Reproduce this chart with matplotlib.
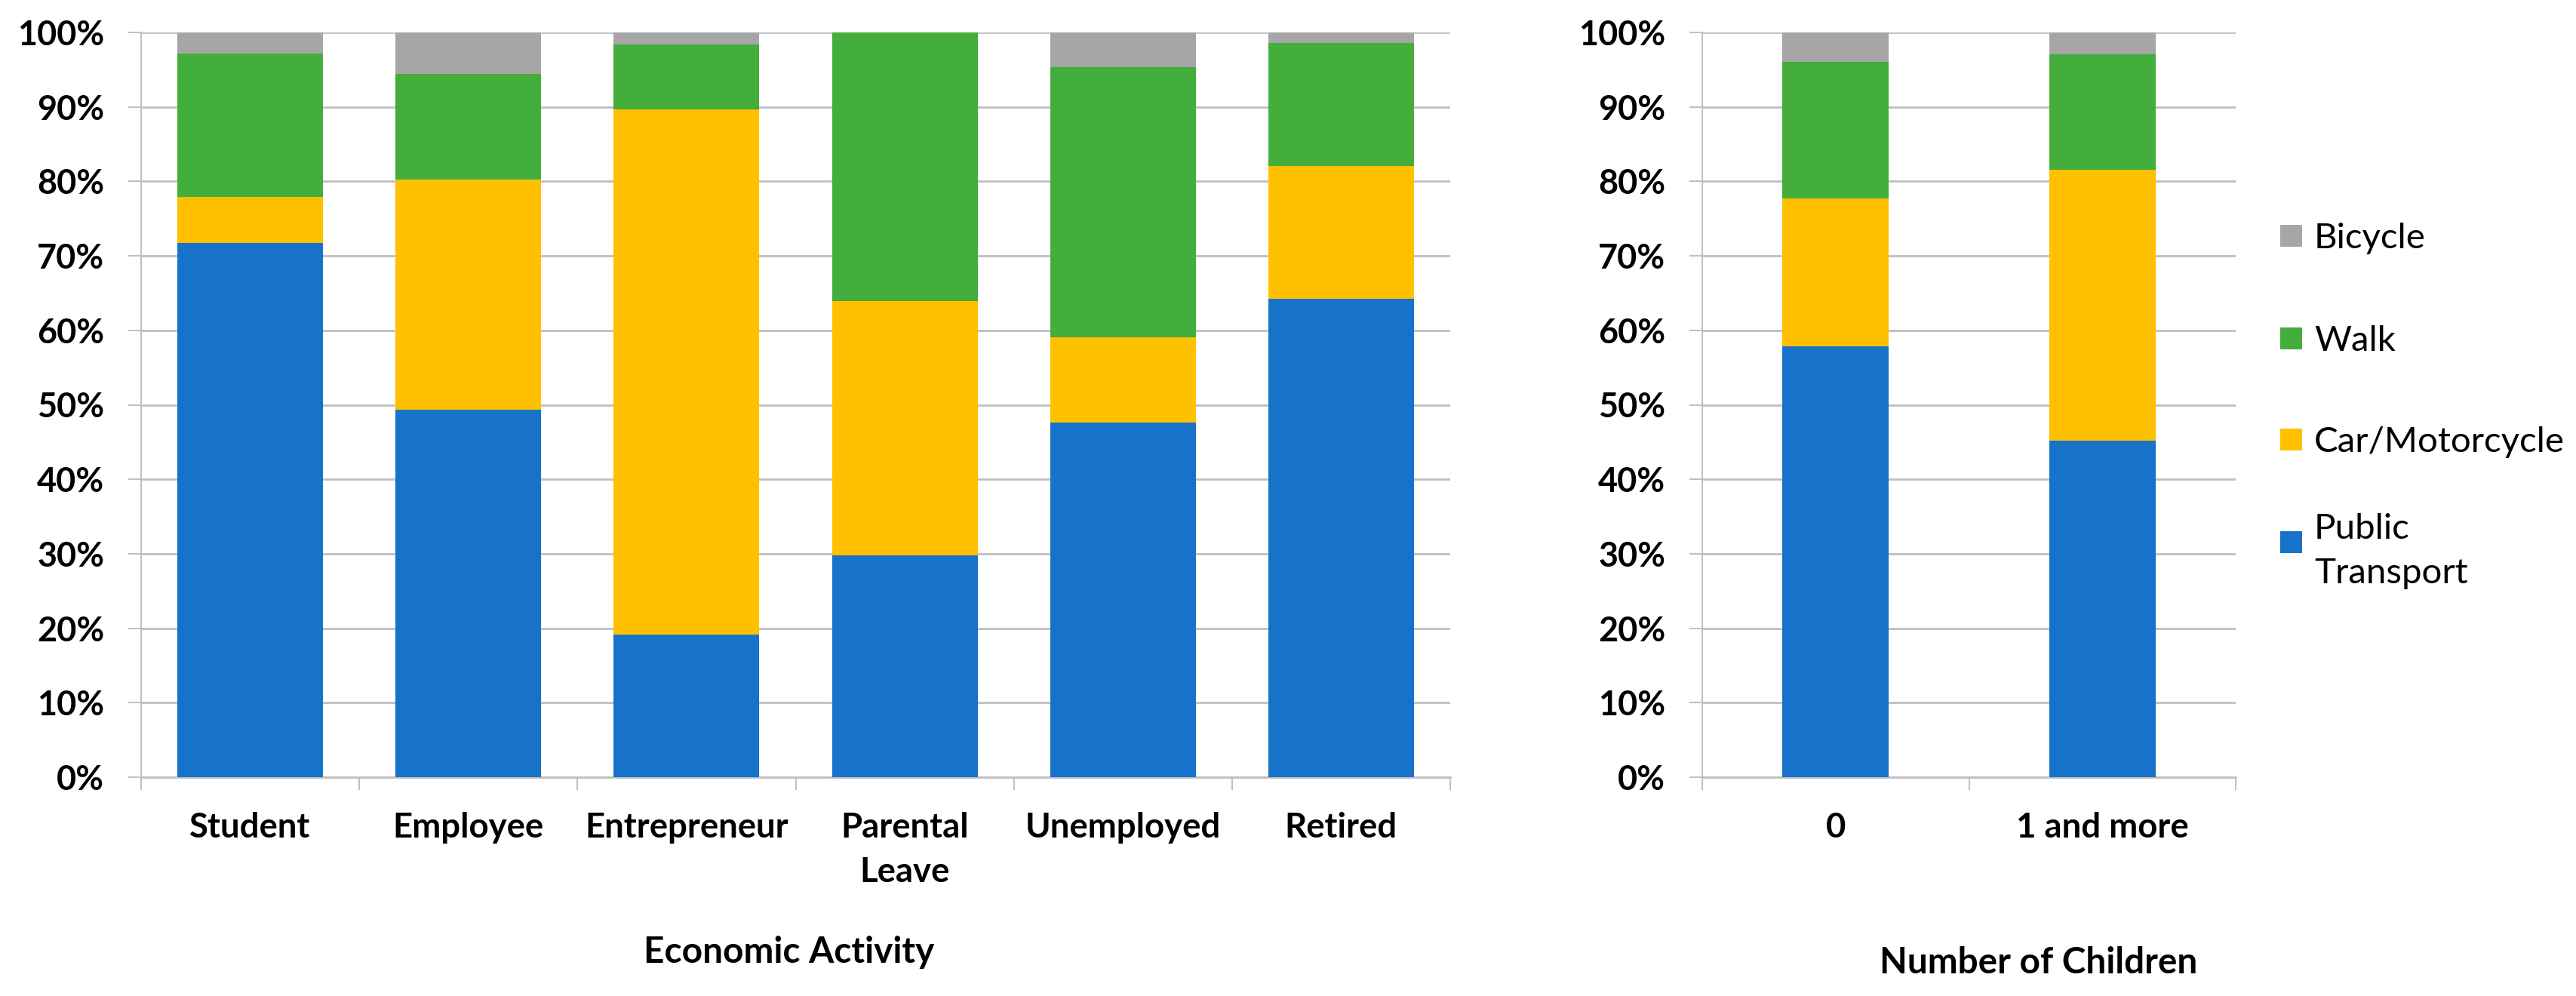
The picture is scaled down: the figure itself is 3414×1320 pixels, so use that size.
import matplotlib
matplotlib.use("Agg")
import matplotlib.pyplot as plt
from matplotlib.patches import Rectangle

plt.rcParams['font.family'] = ['Lato', 'DejaVu Sans']

# transport modes, bottom to top of each stack
modes = ["Public\nTransport", "Car/Motorcycle", "Walk", "Bicycle"]
colors = ["#1773CA", "#FFC000", "#43AE3B", "#A6A6A6"]

# left panel: economic activity (%)
activity = ["Student", "Employee", "Entrepreneur", "Parental\nLeave", "Unemployed", "Retired"]
act_public = [71.7, 49.3, 19.1, 29.8, 47.6, 64.2]
act_car = [6.2, 30.9, 70.6, 34.1, 11.5, 17.9]
act_walk = [19.3, 14.2, 8.7, 36.1, 36.2, 16.5]
act_bicycle = [2.8, 5.6, 1.6, 0.0, 4.7, 1.4]

# right panel: number of children (%)
children = ["0", "1 and more"]
ch_public = [57.9, 45.2]
ch_car = [19.8, 36.4]
ch_walk = [18.3, 15.5]
ch_bicycle = [4.0, 2.9]

GRID = "#BFBFBF"
W, H = 3414, 1320
DPI = 100

fig = plt.figure(figsize=(W / DPI, H / DPI), dpi=DPI)
renderer = fig.canvas.get_renderer()


def fit_size(text, weight, target_px, ref=30.0):
    # font size that makes `text` about target_px wide (the reference font is narrower Calibri)
    t = fig.text(0, 0, text, fontsize=ref, fontweight=weight)
    w = t.get_window_extent(renderer=renderer).width
    t.remove()
    return ref * target_px / w


FS_YTICK = fit_size("100%", "bold", 115)
FS_XTICK = fit_size("Entrepreneur", "bold", 270)
FS_TITLE = fit_size("Economic Activity", "bold", 386)
FS_LEG = fit_size("Car/Motorcycle", "normal", 331)


def stacked_panel(ax, cats, series, width):
    n = len(cats)
    x = list(range(n))
    bottom = [0.0] * n
    for vals, col, lab in zip(series, colors, modes):
        ax.bar(x, vals, width, bottom=bottom, color=col, label=lab, zorder=3, linewidth=0)
        bottom = [b + v for b, v in zip(bottom, vals)]
    ax.set_xlim(-0.5, n - 0.5)
    ax.set_ylim(0, 100)
    ax.set_yticks(range(0, 101, 10))
    ax.set_yticklabels(["%d%%" % v for v in range(0, 101, 10)])
    ax.set_xticks(x)
    ax.set_xticklabels(cats, linespacing=1.5)
    ax.set_xticks([i - 0.5 for i in range(n + 1)], minor=True)
    ax.grid(axis="y", color=GRID, linewidth=2.0, zorder=0)
    ax.set_axisbelow(True)
    for s in ("top", "right"):
        ax.spines[s].set_visible(False)
    ax.spines["left"].set_color(GRID)
    ax.spines["left"].set_linewidth(1.4)
    ax.spines["bottom"].set_color(GRID)
    ax.spines["bottom"].set_linewidth(2.0)
    ax.tick_params(axis="y", length=12.2, width=1.4, color=GRID, pad=23,
                   labelsize=FS_YTICK)
    ax.tick_params(axis="x", which="major", length=0, pad=33, labelsize=FS_XTICK)
    ax.tick_params(axis="x", which="minor", length=12.2, width=1.4, color=GRID)
    for t in ax.get_xticklabels() + ax.get_yticklabels():
        t.set_fontweight("bold")


ax1 = fig.add_axes([187 / W, 1 - 1030 / H, 1735 / W, 987 / H])
stacked_panel(ax1, activity, [act_public, act_car, act_walk, act_bicycle], 0.667)

ax2 = fig.add_axes([2256 / W, 1 - 1030 / H, 707 / W, 987 / H])
stacked_panel(ax2, children, [ch_public, ch_car, ch_walk, ch_bicycle], 0.4)

fig.text(1046 / W, 1 - 1258 / H, "Economic Activity", ha="center", va="center_baseline",
         fontsize=FS_TITLE, fontweight="bold")
fig.text(2702 / W, 1 - 1272 / H, "Number of Children", ha="center", va="center_baseline",
         fontsize=FS_TITLE, fontweight="bold")

# legend, top entry = top of stack
leg_y = [312, 448, 582, 718]
sq = 29
for yc, lab, col in zip(leg_y, modes[::-1], colors[::-1]):
    fig.patches.append(Rectangle((3022 / W, 1 - (yc + sq / 2) / H), sq / W, sq / H,
                                 transform=fig.transFigure, facecolor=col,
                                 edgecolor="none"))
    fig.text(3067 / W, 1 - yc / H, lab, ha="left", va="center_baseline",
             fontsize=FS_LEG, linespacing=1.5)

fig.savefig("out.png", dpi=DPI)
